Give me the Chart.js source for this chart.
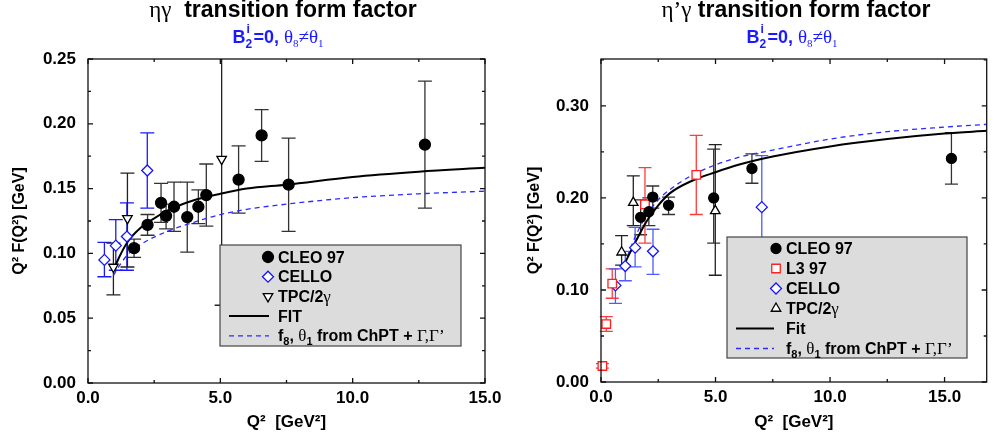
<!DOCTYPE html>
<html>
<head>
<meta charset="utf-8">
<script src="https://cdn.jsdelivr.net/npm/chart.js@4"></script>
<style>
body{margin:0;background:#fff;width:993px;height:437px;overflow:hidden;position:relative;font-family:"Liberation Sans",Arial,sans-serif}
canvas{position:absolute;top:0}
#cL{left:0}
#cR{left:497px}
.ttl{position:absolute;top:-2px;width:400px;text-align:center;font:bold 23px/23px "Liberation Sans";white-space:nowrap;color:#000}
.gr{font-family:"Liberation Serif";font-weight:normal}
.sub{position:absolute;top:28px;width:300px;text-align:center;font:bold 18px/18px "Liberation Sans";white-space:nowrap;color:#1a1aff}
.sub .gr{font-size:19px}
.sub sub{font-size:11px;vertical-align:-4px}
.ix{position:relative;display:inline-block;width:8px;height:1px}
.ix span{position:absolute;font-size:12px;line-height:12px}
.ix .sp{left:1px;top:-19px}
.ix .sb{left:0;top:-4px}
</style>
</head>
<body>
<canvas id="cL" width="530" height="437"></canvas>
<canvas id="cR" width="497" height="437"></canvas>
<div class="ttl" style="left:83px"><span class="gr">ηγ</span>&nbsp; transition form factor</div>
<div class="ttl" style="left:596px"><span class="gr">η’γ</span> transition form factor</div>
<div class="sub" style="left:128px">B<span class="ix"><span class="sp">i</span><span class="sb">2</span></span>=0, <span class="gr">θ<sub>8</sub>≠θ<sub>1</sub></span></div>
<div class="sub" style="left:642px">B<span class="ix"><span class="sp">i</span><span class="sb">2</span></span>=0, <span class="gr">θ<sub>8</sub>≠θ<sub>1</sub></span></div>
<script>
// ---- eta gamma (left) ----
const etaCleoQ2 = [1.74, 2.25, 2.76, 2.95, 3.25, 3.75, 4.17, 4.47, 5.69, 6.56, 7.58, 12.73];
const etaCleoF  = [0.104, 0.122, 0.139, 0.129, 0.136, 0.128, 0.136, 0.145, 0.157, 0.191, 0.153, 0.184];
const etaCleoLo = [0.097, 0.114, 0.124, 0.119, 0.117, 0.101, 0.123, 0.121, 0.131, 0.171, 0.117, 0.135];
const etaCleoHi = [0.111, 0.130, 0.154, 0.138, 0.155, 0.155, 0.149, 0.169, 0.183, 0.211, 0.189, 0.233];

const etaCelloQ2 = [0.62, 1.05, 1.47, 2.24];
const etaCelloF  = [0.095, 0.106, 0.113, 0.164];
const etaCelloLo = [0.082, 0.087, 0.087, 0.135];
const etaCelloHi = [0.1085, 0.126, 0.139, 0.193];

const etaTpcQ2 = [0.96, 1.49, 5.05];
const etaTpcF  = [0.0895, 0.127, 0.1727];
const etaTpcLo = [0.068, 0.0895, 0.06];
const etaTpcHi = [0.108, 0.162, 0.30];

const etaFitQ2 = [0.96, 1.2, 1.5, 2, 2.5, 3, 4, 5, 6, 7.5, 10, 12.5, 15];
const etaFitF  = [0.087, 0.098, 0.109, 0.120, 0.127, 0.133, 0.141, 0.146, 0.150, 0.153, 0.159, 0.163, 0.166];
const etaChptQ2 = [0.96, 1.2, 1.5, 2, 3, 4, 5, 6, 7.5, 10, 12.5, 15];
const etaChptF  = [0.083, 0.091, 0.099, 0.107, 0.117, 0.124, 0.130, 0.134, 0.138, 0.143, 0.146, 0.148];

const etaXTicks = [0, 2.5, 5, 7.5, 10, 12.5, 15];
const etaXLabels = ['0.0', '', '5.0', '', '10.0', '', '15.0'];
const etaYTicks = [0, 0.025, 0.05, 0.075, 0.1, 0.125, 0.15, 0.175, 0.2, 0.225, 0.25];
const etaYLabels = ['0.00', '', '0.05', '', '0.10', '', '0.15', '', '0.20', '', '0.25'];

// ---- eta' gamma (right) ----
const etapCleoQ2 = [1.73, 2.09, 2.26, 2.95, 4.92, 6.59, 15.3];
const etapCleoF  = [0.179, 0.185, 0.201, 0.192, 0.200, 0.232, 0.243];
const etapCleoLo = [0.160, 0.170, 0.189, 0.182, 0.151, 0.216, 0.215];
const etapCleoHi = [0.198, 0.200, 0.213, 0.201, 0.253, 0.248, 0.271];

const etapL3Q2 = [0.06, 0.23, 0.49, 1.92, 4.16];
const etapL3F  = [0.0174, 0.063, 0.107, 0.193, 0.225];
const etapL3Lo = [0.015, 0.055, 0.091, 0.151, 0.182];
const etapL3Hi = [0.020, 0.071, 0.123, 0.233, 0.268];

const etapCelloQ2 = [0.63, 1.06, 1.49, 2.27, 7.02];
const etapCelloF  = [0.105, 0.126, 0.146, 0.142, 0.190];
const etapCelloLo = [0.0855, 0.110, 0.125, 0.117, 0.12];
const etapCelloHi = [0.123, 0.142, 0.168, 0.166, 0.246];

const etapTpcQ2 = [0.90, 1.41, 4.99];
const etapTpcF  = [0.141, 0.195, 0.186];
const etapTpcLo = [0.127, 0.170, 0.116];
const etapTpcHi = [0.159, 0.224, 0.258];

const etapFitQ2 = [1.0, 1.5, 2, 2.5, 3, 4, 5, 6, 7.5, 10, 12.5, 15, 16.84];
const etapFitF  = [0.127, 0.152, 0.175, 0.192, 0.205, 0.219, 0.228, 0.236, 0.245, 0.256, 0.264, 0.270, 0.273];
const etapChptQ2 = [1.0, 1.5, 2, 2.5, 3, 4, 5, 6, 7.5, 10, 12.5, 15, 16.84];
const etapChptF  = [0.127, 0.158, 0.182, 0.198, 0.209, 0.225, 0.236, 0.244, 0.252, 0.264, 0.272, 0.277, 0.280];

const etapXTicks = [0, 2.5, 5, 7.5, 10, 12.5, 15];
const etapXLabels = ['0.0', '', '5.0', '', '10.0', '', '15.0'];
const etapYTicks = [0, 0.05, 0.1, 0.15, 0.2, 0.25, 0.3, 0.35];
const etapYLabels = ['0.00', '', '0.10', '', '0.20', '', '0.30', ''];

const pts = (xs, ys) => xs.map((v, i) => ({x: v, y: ys[i]}));

const SANS = '"Liberation Sans", Arial, sans-serif';
const B = 'bold 16px ' + SANS;
const G = '17px "Liberation Serif", serif';
const S = 'bold 11px ' + SANS;

// vertical error bars, drawn before the markers
const errorBars = {
  id: 'errorBars',
  beforeDatasetsDraw(chart) {
    const {ctx, chartArea: a, scales: {x, y}} = chart;
    ctx.save();
    ctx.beginPath();
    ctx.rect(a.left - 10, a.top, a.right - a.left + 20, a.bottom - a.top + 10);
    ctx.clip();
    chart.data.datasets.forEach(ds => {
      if (!ds.errLo) return;
      ctx.strokeStyle = ds.errColor;
      ctx.lineWidth = 1.3;
      const cap = ds.cap || 7;
      ds.data.forEach((p, i) => {
        const px = x.getPixelForValue(p.x);
        const yl = y.getPixelForValue(ds.errLo[i]);
        const yh = y.getPixelForValue(ds.errHi[i]);
        ctx.beginPath();
        ctx.moveTo(px, yl); ctx.lineTo(px, yh);
        ctx.moveTo(px - cap, yl); ctx.lineTo(px + cap, yl);
        ctx.moveTo(px - cap, yh); ctx.lineTo(px + cap, yh);
        ctx.stroke();
      });
    });
    ctx.restore();
  }
};

function drawRich(ctx, x, y, segs) {
  for (const s of segs) {
    ctx.font = s.f;
    ctx.fillText(s.t, x, y + (s.dy || 0));
    x += ctx.measureText(s.t).width;
  }
}

// grey legend box inside the plot
const boxLegend = {
  id: 'boxLegend',
  afterDatasetsDraw(chart, args, o) {
    const ctx = chart.ctx;
    ctx.save();
    ctx.fillStyle = '#dcdcdc';
    ctx.fillRect(o.box[0], o.box[1], o.box[2] - o.box[0], o.box[3] - o.box[1]);
    ctx.strokeStyle = '#444';
    ctx.lineWidth = 1.2;
    ctx.strokeRect(o.box[0], o.box[1], o.box[2] - o.box[0], o.box[3] - o.box[1]);
    chart.data.datasets.forEach((ds, i) => {
      const yy = o.y0 + i * o.dy;
      if (ds.showLine) {
        ctx.strokeStyle = ds.borderColor;
        ctx.lineWidth = ds.borderWidth;
        ctx.setLineDash(ds.borderDash || []);
        ctx.beginPath();
        ctx.moveTo(o.line[0], yy); ctx.lineTo(o.line[1], yy);
        ctx.stroke();
        ctx.setLineDash([]);
      } else {
        ctx.fillStyle = ds.backgroundColor;
        ctx.strokeStyle = ds.borderColor;
        ctx.lineWidth = ds.borderWidth;
        Chart.helpers.drawPoint(ctx, {pointStyle: ds.pointStyle, rotation: ds.rotation || 0,
          radius: ds.radius, borderWidth: ds.borderWidth}, o.mx, yy);
      }
      ctx.fillStyle = '#000';
      ctx.textBaseline = 'alphabetic';
      drawRich(ctx, o.tx, yy + 5.5, ds.legendText);
    });
    ctx.restore();
  }
};

// frame with inward ticks on all sides
const frame = {
  id: 'frame',
  afterDraw(chart) {
    const {ctx, chartArea: a, scales: {x, y}} = chart;
    ctx.save();
    ctx.strokeStyle = '#111';
    ctx.lineWidth = 1.3;
    ctx.strokeRect(a.left, a.top, a.right - a.left, a.bottom - a.top);
    ctx.beginPath();
    x.ticks.forEach(t => {
      const px = x.getPixelForValue(t.value), len = t.label ? 5 : 3;
      ctx.moveTo(px, a.bottom); ctx.lineTo(px, a.bottom - len);
      ctx.moveTo(px, a.top); ctx.lineTo(px, a.top + len);
    });
    y.ticks.forEach(t => {
      const py = y.getPixelForValue(t.value), len = t.label ? 5 : 3;
      ctx.moveTo(a.left, py); ctx.lineTo(a.left + len, py);
      ctx.moveTo(a.right, py); ctx.lineTo(a.right - len, py);
    });
    ctx.stroke();
    ctx.restore();
  }
};

function scaleOpts(min, max, ticks, labels, size, title, titlePad, tickPad, isX) {
  return {
    type: 'linear', min: min, max: max,
    grid: {display: false, drawTicks: false},
    border: {display: false},
    afterBuildTicks(s) { s.ticks = ticks.map(v => ({value: v})); },
    afterFit(s) {
      if (isX) s.height = size; else s.width = size;
      s.paddingLeft = 0; s.paddingRight = 0; s.paddingTop = 0; s.paddingBottom = 0;
    },
    ticks: {
      autoSkip: false, maxRotation: 0, padding: tickPad, color: '#000',
      font: {family: SANS, weight: 'bold', size: 17},
      callback: (v, i) => labels[i]
    },
    title: {display: true, text: title, color: '#000', padding: titlePad,
      font: {family: SANS, weight: 'bold', size: isX ? 17 : 16}}
  };
}

function pointSet(label, xs, ys, lo, hi, style, color, errColor, extra) {
  return Object.assign({
    label: label, data: pts(xs, ys), errLo: lo, errHi: hi, errColor: errColor,
    pointStyle: style, radius: 5.5, pointRadius: 5.5, borderWidth: 1.3,
    borderColor: color, backgroundColor: '#fff', showLine: false, clip: false,
    legendText: [{t: label, f: B}]
  }, extra || {});
}

function curveSet(label, xs, ys, color, width, dash, legendText) {
  return {
    label: label, data: pts(xs, ys), showLine: true, pointRadius: 0,
    borderColor: color, borderWidth: width, borderDash: dash,
    cubicInterpolationMode: 'monotone', legendText: legendText
  };
}

const chptText = [{t: 'f', f: B}, {t: '8', f: S, dy: 4}, {t: ', ', f: B}, {t: 'θ', f: G},
  {t: '1', f: S, dy: 4}, {t: ' from ChPT + ', f: B}, {t: 'Γ,Γ’', f: G}];

const baseOpts = {
  responsive: false, animation: false, events: [],
  plugins: {legend: {display: false}, tooltip: {enabled: false}}
};

new Chart(document.getElementById('cL'), {
  type: 'scatter',
  data: {datasets: [
    pointSet('CLEO 97', etaCleoQ2, etaCleoF, etaCleoLo, etaCleoHi, 'circle', '#000', '#333',
      {backgroundColor: '#000', pointRadius: 5.5}),
    pointSet('CELLO', etaCelloQ2, etaCelloF, etaCelloLo, etaCelloHi, 'rectRot', '#1414ff', '#1a1aff'),
    pointSet('TPC/2γ', etaTpcQ2, etaTpcF, etaTpcLo, etaTpcHi, 'triangle', '#000', '#222',
      {rotation: 180, pointRotation: 180, legendText: [{t: 'TPC/2', f: B}, {t: 'γ', f: G}]}),
    curveSet('FIT', etaFitQ2, etaFitF, '#000', 2, [], [{t: 'FIT', f: B}]),
    curveSet('ChPT', etaChptQ2, etaChptF, '#2b2bff', 1.3, [5, 4], chptText)
  ]},
  options: Object.assign({}, baseOpts, {
    layout: {padding: {top: 59, right: 45, bottom: 0, left: 0}},
    scales: {
      x: scaleOpts(0, 15, etaXTicks, etaXLabels, 54, 'Q²  [GeV²]', {top: 0, bottom: 4}, 5, true),
      y: scaleOpts(0, 0.25, etaYTicks, etaYLabels, 88, 'Q² F(Q²) [GeV]', {top: 10, bottom: 0}, 12, false)
    },
    plugins: Object.assign({}, baseOpts.plugins, {
      boxLegend: {box: [220, 245, 461, 346], y0: 257, dy: 19.7, mx: 268, tx: 278, line: [229, 269]}
    })
  }),
  plugins: [errorBars, boxLegend, frame]
});

new Chart(document.getElementById('cR'), {
  type: 'scatter',
  data: {datasets: [
    pointSet('CLEO 97', etapCleoQ2, etapCleoF, etapCleoLo, etapCleoHi, 'circle', '#000', '#333',
      {backgroundColor: '#000', radius: 5, pointRadius: 5, cap: 6.5}),
    pointSet('L3 97', etapL3Q2, etapL3F, etapL3Lo, etapL3Hi, 'rect', '#ff2020', '#ff3b3b',
      {radius: 6, pointRadius: 6, cap: 6.5}),
    pointSet('CELLO', etapCelloQ2, etapCelloF, etapCelloLo, etapCelloHi, 'rectRot', '#1414ff', '#4d5cff',
      {cap: 6.5}),
    pointSet('TPC/2γ', etapTpcQ2, etapTpcF, etapTpcLo, etapTpcHi, 'triangle', '#000', '#222',
      {cap: 6.5, legendText: [{t: 'TPC/2', f: B}, {t: 'γ', f: G}]}),
    curveSet('Fit', etapFitQ2, etapFitF, '#000', 2, [], [{t: 'Fit', f: B}]),
    curveSet('ChPT', etapChptQ2, etapChptF, '#2b2bff', 1.3, [5, 4], chptText)
  ]},
  options: Object.assign({}, baseOpts, {
    layout: {padding: {top: 59, right: 0, bottom: 0, left: 0}},
    scales: {
      x: scaleOpts(0, 16.84, etapXTicks, etapXLabels, 55, 'Q²  [GeV²]', {top: 0, bottom: 4}, 5, true),
      y: scaleOpts(0, 0.351, etapYTicks, etapYLabels, 104, 'Q² F(Q²) [GeV]', {top: 28, bottom: 0}, 12, false)
    },
    plugins: Object.assign({}, baseOpts.plugins, {
      boxLegend: {box: [230, 237, 470, 358], y0: 248.5, dy: 20, mx: 279, tx: 289, line: [239, 277]}
    })
  }),
  plugins: [errorBars, boxLegend, frame]
});
</script>
</body>
</html>
